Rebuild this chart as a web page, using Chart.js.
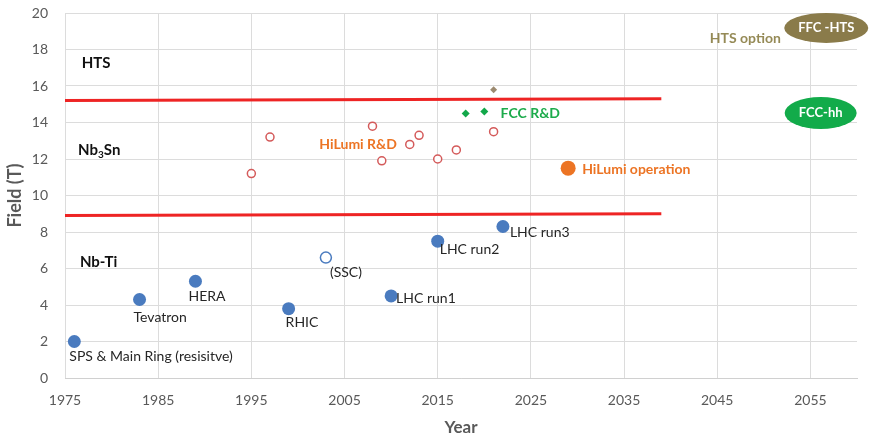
<!DOCTYPE html>
<html>
<head>
<meta charset="utf-8">
<title>Magnet field vs year</title>
<script src="https://cdn.jsdelivr.net/npm/chart.js@4/dist/chart.umd.min.js"></script>
<style>
  html, body { margin: 0; padding: 0; background: #fff; }
  #wrap { width: 871px; height: 440px; }
</style>
</head>
<body>
<div id="wrap"><canvas id="chartField"></canvas></div>
<script>
/* Dipole field of colliders by year, with the Nb-Ti / Nb3Sn / HTS bands */

// Nb-Ti machines (filled blue)
const nbtiYears = [1976, 1983, 1989, 1999, 2010, 2015, 2022];
const nbtiField = [2.0, 4.3, 5.3, 3.8, 4.5, 7.5, 8.3];
const nbtiNames = ["SPS & Main Ring (resisitve)", "Tevatron", "HERA", "RHIC", "LHC run1", "LHC run2", "LHC run3"];

// cancelled SSC (open blue)
const sscYears = [2003];
const sscField = [6.6];
const sscNames = ["(SSC)"];

// HiLumi R&D short models (open red)
const rdYears = [1995, 1997, 2008, 2009, 2012, 2013, 2015, 2017, 2021];
const rdField = [11.2, 13.2, 13.8, 11.9, 12.8, 13.3, 12.0, 12.5, 13.5];

// FCC R&D (green diamonds) and HTS insert (grey diamond)
const fccYears = [2018, 2020];
const fccField = [14.5, 14.6];
const htsYears = [2021];
const htsField = [15.8];

// HiLumi operation
const opYears = [2029];
const opField = [11.5];

// conductor limits (red lines)
const limitYears = [1975, 2039];
const nb3snLimit = [15.2, 15.3];
const nbtiLimit = [8.9, 9.0];

// axes
const xTicks = [1975, 1985, 1995, 2005, 2015, 2025, 2035, 2045, 2055];
const xMin = 1975, xMax = 2060;
const yMin = 0, yMax = 20, yStep = 2;

const FONT = "Lato, 'Open Sans', sans-serif";
const BLUE = "#4a7bbf";
const ORANGE = "#ec7424";
const GREEN = "#1cab4b";
const OLIVE = "#958a56";

// pixel offsets of the machine names from their markers
const nameOffsets = {
  "SPS & Main Ring (resisitve)": [-5, 15],
  "Tevatron": [-6, 18],
  "HERA": [-7, 15],
  "RHIC": [-3, 14],
  "(SSC)": [4, 15],
  "LHC run1": [5, 3],
  "LHC run2": [2, 8],
  "LHC run3": [7, 6]
};

// free text placed in data coordinates
const notes = [
  { text: "HTS", x: 1976.8, y: 17.25, color: "#111", size: 15 },
  { text: "Nb-Ti", x: 1976.6, y: 6.35, color: "#111", size: 15 },
  { text: "HiLumi R&D", x: 2002.3, y: 12.82, color: ORANGE, size: 14 },
  { text: "FCC R&D", x: 2021.75, y: 14.52, color: GREEN, size: 14 },
  { text: "HiLumi operation", x: 2030.5, y: 11.45, color: ORANGE, size: 14 },
  { text: "HTS option", x: 2044.2, y: 18.58, color: OLIVE, size: 14 }
];

const bubbles = [
  { text: "FFC -HTS", x: 2056.7, y: 19.18, rx: 42, ry: 15, fill: "#8a7b4a" },
  { text: "FCC-hh", x: 2056.1, y: 14.52, rx: 36, ry: 16, fill: "#12ab4a" }
];

const pts = (xs, ys) => xs.map((x, i) => ({ x, y: ys[i] }));

const notesPlugin = {
  id: "notes",
  afterDatasetsDraw(chart) {
    const { ctx, scales: { x, y } } = chart;
    ctx.save();
    ctx.textBaseline = "middle";

    // machine names next to their markers
    ctx.font = `14px ${FONT}`;
    ctx.fillStyle = "#262626";
    ctx.textAlign = "left";
    [[0, nbtiNames], [1, sscNames]].forEach(([di, names]) => {
      chart.getDatasetMeta(di).data.forEach((el, i) => {
        const off = nameOffsets[names[i]] || [4, 12];
        ctx.fillText(names[i], el.x + off[0], el.y + off[1]);
      });
    });

    notes.forEach(n => {
      ctx.font = `bold ${n.size}px ${FONT}`;
      ctx.fillStyle = n.color;
      ctx.fillText(n.text, x.getPixelForValue(n.x), y.getPixelForValue(n.y));
    });

    // Nb3Sn with the subscript
    const sx = x.getPixelForValue(1976.4), sy = y.getPixelForValue(12.5);
    ctx.fillStyle = "#111";
    ctx.font = `bold 15px ${FONT}`;
    ctx.fillText("Nb", sx, sy);
    let w = ctx.measureText("Nb").width;
    ctx.font = `bold 10px ${FONT}`;
    ctx.fillText("3", sx + w, sy + 5);
    w += ctx.measureText("3").width;
    ctx.font = `bold 15px ${FONT}`;
    ctx.fillText("Sn", sx + w, sy);

    // machine bubbles on the right
    ctx.textAlign = "center";
    bubbles.forEach(b => {
      const cx = x.getPixelForValue(b.x), cy = y.getPixelForValue(b.y);
      ctx.beginPath();
      ctx.ellipse(cx, cy, b.rx, b.ry, 0, 0, Math.PI * 2);
      ctx.fillStyle = b.fill;
      ctx.fill();
      ctx.font = `bold 13px ${FONT}`;
      ctx.fillStyle = "#fff";
      ctx.fillText(b.text, cx, cy);
    });
    ctx.restore();
  }
};

new Chart(document.getElementById("chartField"), {
  type: "scatter",
  data: {
    datasets: [
      { data: pts(nbtiYears, nbtiField), backgroundColor: BLUE, borderColor: BLUE, pointRadius: 6.5, borderWidth: 0 },
      { data: pts(sscYears, sscField), backgroundColor: "#fff", borderColor: BLUE, pointRadius: 5.5, borderWidth: 1.5 },
      { data: pts(rdYears, rdField), backgroundColor: "#fff", borderColor: "#d45a5a", pointRadius: 4, borderWidth: 1.5 },
      { data: pts(fccYears, fccField), pointStyle: "rectRot", backgroundColor: "#12a84a", borderColor: "#12a84a", pointRadius: 4, borderWidth: 0 },
      { data: pts(htsYears, htsField), pointStyle: "rectRot", backgroundColor: "#9c8a70", borderColor: "#9c8a70", pointRadius: 3.5, borderWidth: 0 },
      { data: pts(opYears, opField), backgroundColor: ORANGE, borderColor: ORANGE, pointRadius: 7.5, borderWidth: 0 },
      { type: "line", data: pts(limitYears, nb3snLimit), borderColor: "#ee2424", borderWidth: 3, pointRadius: 0, fill: false },
      { type: "line", data: pts(limitYears, nbtiLimit), borderColor: "#ee2424", borderWidth: 3, pointRadius: 0, fill: false }
    ]
  },
  options: {
    responsive: true,
    maintainAspectRatio: false,
    animation: false,
    layout: { padding: { top: 13, right: 14, left: 0, bottom: 0 } },
    plugins: { legend: { display: false }, tooltip: { enabled: false } },
    scales: {
      x: {
        type: "linear",
        min: xMin,
        max: xMax,
        afterBuildTicks: (s) => { s.ticks = xTicks.map(v => ({ value: v })); },
        afterFit: (s) => { s.height = 62; s.paddingRight = 0; },
        ticks: { padding: 14, color: "#595959", font: { family: FONT, size: 14 }, callback: (v) => String(v) },
        grid: { color: "#dcdcdc", drawTicks: false },
        border: { color: "#d0d0d0" },
        title: { display: true, text: "Year", color: "#595959", font: { family: FONT, size: 17, weight: "bold" }, padding: { top: 0, bottom: 2 } }
      },
      y: {
        min: yMin,
        max: yMax,
        ticks: { stepSize: yStep, padding: 17, color: "#595959", font: { family: FONT, size: 14 } },
        afterFit: (s) => { s.width = 65; s.paddingTop = 0; s.paddingBottom = 0; },
        grid: { color: "#dcdcdc", drawTicks: false },
        border: { display: false },
        title: { display: true, text: "Field (T)", color: "#595959", font: { family: FONT, size: 18, weight: "bold" }, padding: { top: 4, bottom: 0 } }
      }
    }
  },
  plugins: [notesPlugin]
});
</script>
</body>
</html>
